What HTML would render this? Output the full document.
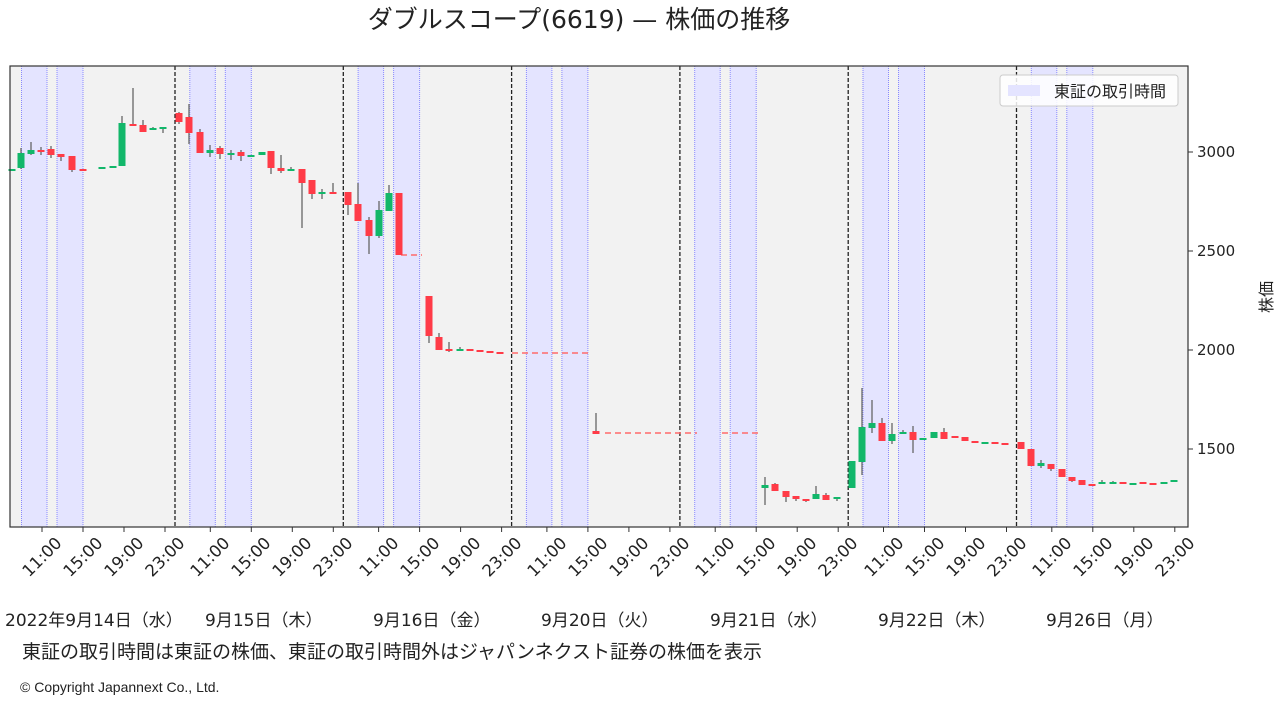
<!DOCTYPE html>
<html><head><meta charset="utf-8"><style>
body{margin:0;background:#fff;}
svg text{font-family:"DejaVu Sans","Noto Sans CJK JP",sans-serif;fill:#222;}
</style></head><body>
<svg id="s" width="1280" height="704" xmlns="http://www.w3.org/2000/svg">
<rect x="0" y="0" width="1280" height="704" fill="#fff"/>
<text x="579" y="28" font-size="25" text-anchor="middle">ダブルスコープ(6619) — 株価の推移</text>
<rect x="10" y="66" width="1178" height="461" fill="#f2f2f2"/>
<g id="shade"></g>
<g id="cand"></g>
<rect x="10" y="66" width="1178" height="461" fill="none" stroke="#333" stroke-width="1.2"/>
<g stroke="#333" stroke-width="1">
<line x1="1188" y1="152" x2="1193" y2="152"/><line x1="1188" y1="251" x2="1193" y2="251"/>
<line x1="1188" y1="350" x2="1193" y2="350"/><line x1="1188" y1="449" x2="1193" y2="449"/>
</g>
<g font-size="15">
<text x="1197" y="157">3000</text><text x="1197" y="256">2500</text>
<text x="1197" y="355">2000</text><text x="1197" y="454">1500</text>
</g>
<text font-size="16" transform="translate(1272,297) rotate(-90)" text-anchor="middle">株価</text>
<g>
<rect x="1000" y="75" width="178" height="31" fill="#fff" fill-opacity="0.85" stroke="#ccc" rx="3"/>
<rect x="1008" y="85" width="32" height="11" fill="#e4e4ff"/>
<text x="1054" y="97" font-size="16">東証の取引時間</text>
</g>
<g id="ticks"></g>
<g font-size="17">
<text x="5" y="626">2022年9月14日（水）</text>
<text x="205" y="626">9月15日（木）</text>
<text x="373" y="626">9月16日（金）</text>
<text x="541" y="626">9月20日（火）</text>
<text x="710" y="626">9月21日（水）</text>
<text x="878" y="626">9月22日（木）</text>
<text x="1046" y="626">9月26日（月）</text>
<text x="22" y="658" font-size="19">東証の取引時間は東証の株価、東証の取引時間外はジャパンネクスト証券の株価を表示</text>
<text x="20" y="692" font-size="14" style="font-family:'Liberation Sans',sans-serif">© Copyright Japannext  Co., Ltd.</text>
</g>
<g font-size="16.5" text-anchor="middle" dominant-baseline="central">
<text transform="translate(42,557) rotate(-45)">11:00</text>
<text transform="translate(83,557) rotate(-45)">15:00</text>
<text transform="translate(124,557) rotate(-45)">19:00</text>
<text transform="translate(165,557) rotate(-45)">23:00</text>
<text transform="translate(210,557) rotate(-45)">11:00</text>
<text transform="translate(251,557) rotate(-45)">15:00</text>
<text transform="translate(292,557) rotate(-45)">19:00</text>
<text transform="translate(333,557) rotate(-45)">23:00</text>
<text transform="translate(379,557) rotate(-45)">11:00</text>
<text transform="translate(420,557) rotate(-45)">15:00</text>
<text transform="translate(461,557) rotate(-45)">19:00</text>
<text transform="translate(502,557) rotate(-45)">23:00</text>
<text transform="translate(547,557) rotate(-45)">11:00</text>
<text transform="translate(588,557) rotate(-45)">15:00</text>
<text transform="translate(629,557) rotate(-45)">19:00</text>
<text transform="translate(670,557) rotate(-45)">23:00</text>
<text transform="translate(715,557) rotate(-45)">11:00</text>
<text transform="translate(756,557) rotate(-45)">15:00</text>
<text transform="translate(797,557) rotate(-45)">19:00</text>
<text transform="translate(838,557) rotate(-45)">23:00</text>
<text transform="translate(884,557) rotate(-45)">11:00</text>
<text transform="translate(925,557) rotate(-45)">15:00</text>
<text transform="translate(966,557) rotate(-45)">19:00</text>
<text transform="translate(1007,557) rotate(-45)">23:00</text>
<text transform="translate(1052,557) rotate(-45)">11:00</text>
<text transform="translate(1093,557) rotate(-45)">15:00</text>
<text transform="translate(1134,557) rotate(-45)">19:00</text>
<text transform="translate(1175,557) rotate(-45)">23:00</text>
</g>
</svg>
<script>
var NS="http://www.w3.org/2000/svg";
function el(p,t,a){var e=document.createElementNS(NS,t);for(var k in a)e.setAttribute(k,a[k]);p.appendChild(e);return e;}
var sh=document.getElementById("shade"),cg=document.getElementById("cand"),tk=document.getElementById("ticks");
var D=168.3;
for(var d=0;d<7;d++){
 var o=d*D;
 [[21.5,47],[57,83]].forEach(function(r){
  el(sh,"rect",{x:r[0]+o,y:66,width:r[1]-r[0],height:461,fill:"#e4e4ff"});
  el(sh,"line",{x1:r[0]+o,y1:66,x2:r[0]+o,y2:527,stroke:"#8888ff","stroke-width":1,"stroke-dasharray":"1,1"});
  el(sh,"line",{x1:r[1]+o,y1:66,x2:r[1]+o,y2:527,stroke:"#8888ff","stroke-width":1,"stroke-dasharray":"1,1"});
 });
 if(d>0)el(sh,"line",{x1:175+(d-1)*D,y1:66,x2:175+(d-1)*D,y2:527,stroke:"#222","stroke-width":1.3,"stroke-dasharray":"4,2"});
 [42,83,124,165].forEach(function(x){el(tk,"line",{x1:x+o,y1:527,x2:x+o,y2:532,stroke:"#333"});});
}
var C=[
[12,171,169,171,169],[21,168,153,148,169],[31,154,150,142,155],[41,150,151,147,155],[51,149,155,146,158],[61,154,157,154,161],[72,156,170,156,172],[83,169,170,169,170],
[102,168,167,167,168],[113,167,166,166,167],[122,166,123,116,166],[133,124,125,88,125],[143,125,132,120,132],[153,129,128,127,130],[163,129,127,127,133],
[179,113,122,112,124],[189,117,133,104,144],[200,132,153,129,153],[210,153,150,145,157],[220,148,154,146,159],[231,154,153,150,160],[241,152,156,150,161],[251,156,155,155,156],[262,155,152,152,155],[271,151,168,151,174],[281,168,171,155,173],[291,170,169,167,171],[302,169,183,169,228],[312,180,194,180,199],[322,193,192,189,199],[333,192,194,183,194],
[348,192,205,192,215],[358,204,221,183,221],[369,220,236,217,254],[379,236,210,201,238],[389,211,193,185,211],[399,193,255,193,255],
[429,296,336,296,343],[439,337,350,333,350],[449,349,350,342,352],[460,350,349,347,351],[470,349,350,349,350],[480,350,351,350,351],[490,351,352,351,352],[500,352,353,352,353],
[596,431,434,413,434],
[765,488,485,477,505],[775,484,491,483,491],[786,491,497,491,502],[796,496,499,496,501],[806,499,500,499,502],[816,499,494,486,499],[826,495,500,493,500],[837,499,497,497,501],
[852,488,461,461,488],[862,462,427,388,475],[872,428,423,400,433],[882,423,441,418,441],[892,441,434,423,444],[903,434,432,430,434],[913,432,440,426,453],[923,439,438,438,439],[934,438,432,432,438],[944,432,439,428,439],[955,436,438,436,438],[965,437,441,437,441],[975,441,443,441,443],[985,443,442,442,443],[995,442,443,442,443],[1005,443,444,443,444],
[1021,442,449,442,449],[1031,449,466,449,466],[1041,466,463,460,468],[1051,464,469,464,471],[1062,469,477,469,477],[1072,477,481,477,482],[1082,480,485,480,485],[1092,484,486,484,486],[1102,484,482,480,484],[1113,483,482,481,483],[1123,482,483,482,483],[1133,484,483,483,484],[1143,482,483,482,483],[1153,483,484,483,484],[1164,483,482,482,483],[1174,482,480,480,482]
];
var dash=[[401,422,255],[512,590,353],[605,697,433],[722,760,433]];
dash.forEach(function(d){el(cg,"line",{x1:d[0],y1:d[2],x2:d[1],y2:d[2],stroke:"#ff6b6b","stroke-width":1.5,"stroke-dasharray":"6,4"});});
C.forEach(function(c){
 var g=c[2]<c[1], col=g?"#12b76a":"#ff3b47";
 el(cg,"line",{x1:c[0],y1:c[3],x2:c[0],y2:c[4],stroke:"#666","stroke-width":1.3});
 var t=Math.min(c[1],c[2]),h=Math.max(Math.abs(c[1]-c[2]),2);
 el(cg,"rect",{x:c[0]-3.5,y:t,width:7,height:h,fill:col});
});
</script>
</body></html>
